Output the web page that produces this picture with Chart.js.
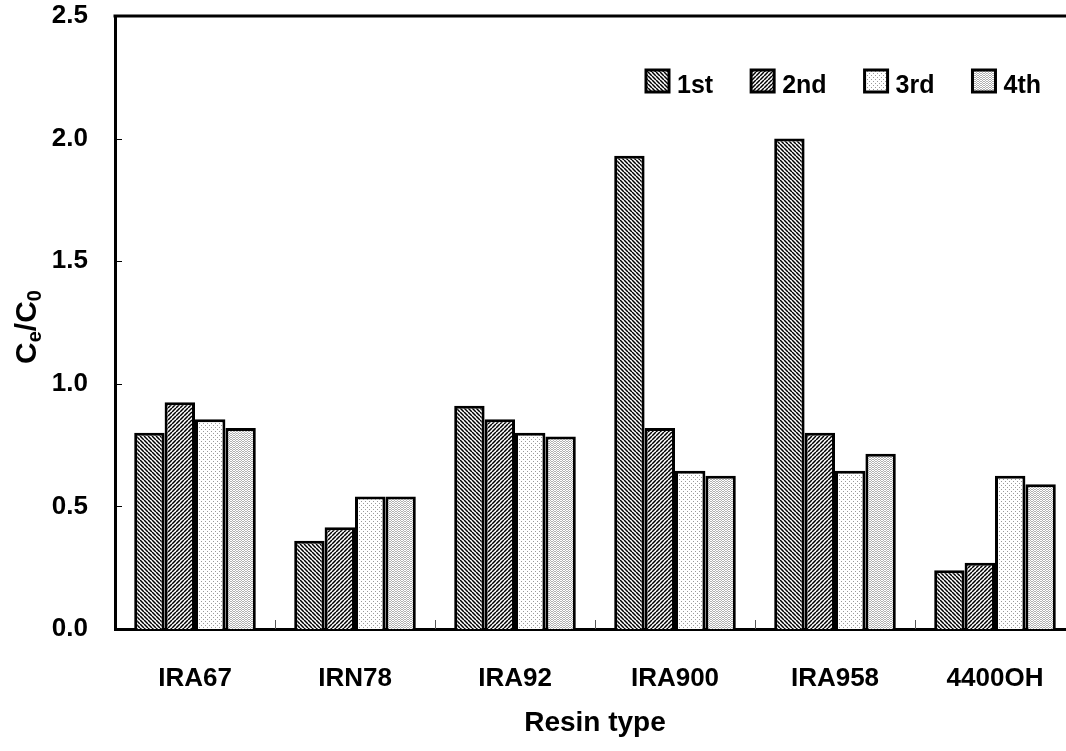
<!DOCTYPE html>
<html>
<head>
<meta charset="utf-8">
<script src="https://cdn.jsdelivr.net/npm/chart.js@4.4.1/dist/chart.umd.min.js"></script>
<style>
  html, body { margin: 0; padding: 0; background: #fff; overflow: hidden; }
  canvas { display: block; }
</style>
</head>
<body>
<canvas id="chart" width="1080" height="751" style="width:1080px;height:751px"></canvas>
<script>
const resins = ["IRA67", "IRN78", "IRA92", "IRA900", "IRA958", "4400OH"];
const runLabels = ["1st", "2nd", "3rd", "4th"];
const run1 = [0.80, 0.36, 0.91, 1.93, 2.00, 0.24];
const run2 = [0.925, 0.415, 0.855, 0.82, 0.80, 0.27];
const run3 = [0.855, 0.54, 0.80, 0.645, 0.645, 0.625];
const run4 = [0.82, 0.54, 0.785, 0.625, 0.715, 0.59];
const yTicks = [0, 0.5, 1.0, 1.5, 2.0, 2.5];

const FONT = "'Liberation Sans', Arial, sans-serif";

function tile(w, h, draw) {
  const c = document.createElement("canvas");
  c.width = w;
  c.height = h;
  const g = c.getContext("2d");
  g.fillStyle = "#fff";
  g.fillRect(0, 0, w, h);
  draw(g);
  return document.createElement("canvas").getContext("2d").createPattern(c, "repeat");
}

// diagonal hatches, dir 1 = "\\\\", dir -1 = "////"
function hatch(dir) {
  return tile(4, 4, (g) => {
    g.strokeStyle = "#000";
    g.lineWidth = 1.5;
    for (let o = -8; o <= 8; o += 4) {
      g.beginPath();
      if (dir > 0) {
        g.moveTo(o, 0);
        g.lineTo(o + 4, 4);
      } else {
        g.moveTo(o + 4, 0);
        g.lineTo(o, 4);
      }
      g.stroke();
    }
  });
}

function dots(w, h, pts, color) {
  return tile(w, h, (g) => {
    g.fillStyle = color;
    pts.forEach(([x, y]) => g.fillRect(x, y, 1, 1));
  });
}

const fills = [
  hatch(1),
  hatch(-1),
  dots(4, 4, [[1, 1], [3, 3]], "#9a9a9a"),
  dots(3, 2, [[1, 0], [0, 1], [2, 1]], "#b0b0b0"),
];

const series = [run1, run2, run3, run4];

const framePlugin = {
  id: "frame",
  afterDraw(chart) {
    const { ctx, chartArea: a, scales } = chart;
    ctx.save();
    ctx.strokeStyle = "#000";
    // top line
    ctx.lineWidth = 3;
    ctx.beginPath();
    ctx.moveTo(a.left - 1.5, a.top);
    ctx.lineTo(a.right + 10, a.top);
    ctx.stroke();
    // inside y ticks
    ctx.lineWidth = 1;
    scales.y.ticks.forEach((t) => {
      if (t.value <= 0 || t.value >= 2.5) return;
      const y = Math.round(scales.y.getPixelForValue(t.value)) + 0.5;
      ctx.beginPath();
      ctx.moveTo(a.left, y);
      ctx.lineTo(a.left + 7, y);
      ctx.stroke();
    });
    // inside x ticks at category boundaries
    ctx.strokeStyle = "#555";
    const half = (scales.x.getPixelForValue(1) - scales.x.getPixelForValue(0)) / 2;
    for (let i = 1; i < resins.length; i++) {
      const x = Math.round(scales.x.getPixelForValue(i) - half) + 0.5;
      ctx.beginPath();
      ctx.moveTo(x, a.bottom);
      ctx.lineTo(x, a.bottom - 9);
      ctx.stroke();
    }

    // y title: Ce/C0
    ctx.fillStyle = "#000";
    ctx.translate(28, 327);
    ctx.rotate(-Math.PI / 2);
    const big = "bold 30px " + FONT;
    const small = "bold 20px " + FONT;
    const parts = [["C", big, 0], ["e", small, 7], ["/C", big, 0], ["0", small, 7]];
    let total = 0;
    parts.forEach(([s, f]) => { ctx.font = f; total += ctx.measureText(s).width; });
    let x = -total / 2;
    ctx.textBaseline = "middle";
    parts.forEach(([s, f, dy]) => {
      ctx.font = f;
      ctx.fillText(s, x, dy);
      x += ctx.measureText(s).width;
    });
    ctx.restore();

    // legend
    ctx.save();
    ctx.font = "bold 25px " + FONT;
    ctx.textBaseline = "alphabetic";
    let lx = 646;
    chart.data.datasets.forEach((ds) => {
      ctx.fillStyle = ds.backgroundColor;
      ctx.fillRect(lx, 70, 23, 22);
      ctx.lineWidth = 3;
      ctx.strokeStyle = "#000";
      ctx.strokeRect(lx, 70, 23, 22);
      ctx.fillStyle = "#000";
      ctx.fillText(ds.label, lx + 31, 93);
      lx += 31 + ctx.measureText(ds.label).width + 38;
    });
    ctx.restore();
  },
};

new Chart(document.getElementById("chart"), {
  type: "bar",
  data: {
    labels: resins,
    datasets: series.map((vals, i) => ({
      label: runLabels[i],
      data: vals,
      backgroundColor: fills[i],
      borderColor: "#000",
      borderWidth: 3,
      categoryPercentage: 0.76,
      barPercentage: 1.0,
    })),
  },
  options: {
    responsive: false,
    animation: false,
    layout: { padding: { top: 16, right: 5, left: 0, bottom: 0 } },
    plugins: {
      legend: { display: false },
      tooltip: { enabled: false },
    },
    scales: {
      x: {
        grid: { display: false, drawTicks: false },
        border: { display: true, color: "#000", width: 3 },
        ticks: {
          color: "#000",
          font: { family: FONT, size: 26, weight: "bold" },
          padding: 34,
          maxRotation: 0,
        },
        title: {
          display: true,
          text: "Resin type",
          color: "#000",
          font: { family: FONT, size: 28, weight: "bold" },
          padding: { top: 0, bottom: 11 },
        },
        afterFit(scale) {
          scale.height = 122;
          scale.paddingLeft = 0;
          scale.paddingRight = 0;
        },
      },
      y: {
        min: 0,
        max: 2.5,
        grid: { display: false, drawTicks: false },
        border: { display: true, color: "#000", width: 3 },
        afterBuildTicks(scale) {
          scale.ticks = yTicks.map((v) => ({ value: v }));
        },
        ticks: {
          color: "#000",
          font: { family: FONT, size: 26, weight: "bold" },
          padding: 27,
          callback: (v) => Number(v).toFixed(1),
        },
        afterFit(scale) {
          scale.width = 115;
          scale.paddingTop = 0;
          scale.paddingBottom = 0;
        },
      },
    },
  },
  plugins: [framePlugin],
});
</script>
</body>
</html>
